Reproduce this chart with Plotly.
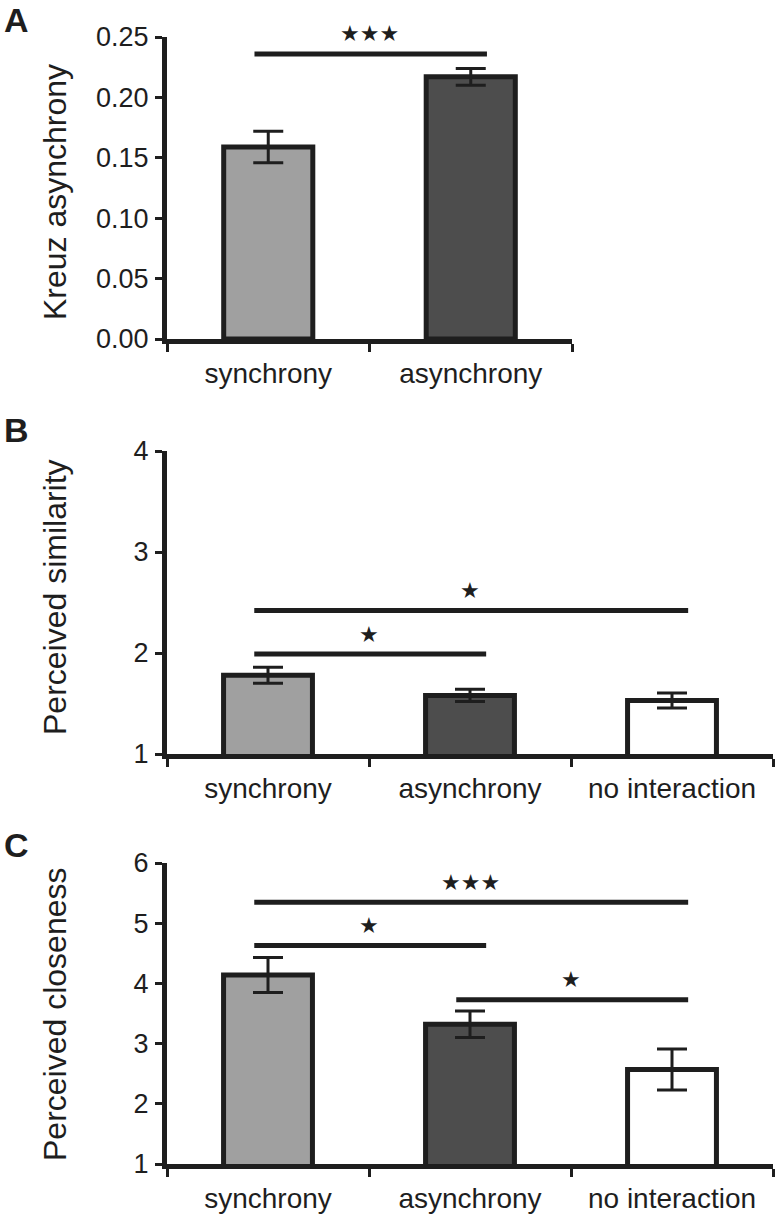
import plotly.graph_objects as go

# ---------------- data ----------------
cats_a = ["synchrony", "asynchrony"]
vals_a = [0.159, 0.217]
errs_a = [0.013, 0.007]

cats_bc = ["synchrony", "asynchrony", "no interaction"]
vals_b = [1.78, 1.58, 1.53]
errs_b = [0.08, 0.06, 0.075]

vals_c = [4.14, 3.32, 2.57]
errs_c = [0.29, 0.22, 0.34]

bar_colors = ["#a0a0a0", "#4d4d4d", "#ffffff"]

# significance: (from index, to index, line height, stars)
sig_a = [(0, 1, 0.236, "★★★")]
sig_b = [(0, 1, 1.99, "★"), (0, 2, 2.42, "★")]
sig_c = [(0, 1, 4.63, "★"), (0, 2, 5.35, "★★★"), (1, 2, 3.73, "★")]

panel_titles = ["Kreuz asynchrony", "Perceived similarity", "Perceived closeness"]
panel_letters = ["A", "B", "C"]

# ---------------- layout geometry (pixels) ----------------
W, H = 776, 1215
FONT = "Liberation Sans, Arial, Helvetica, sans-serif"
INK = "#1e1e1e"


def px_x(p):
    return p / W


def px_y(p):
    return 1 - p / H


fig = go.Figure()

panels = [
    dict(cats=cats_a, vals=vals_a, errs=errs_a, sig=sig_a, yr=[0, 0.25], dt=0.05, fmt=".2f",
         xd=[px_x(167), px_x(572)], yd=[px_y(339), px_y(37)], ax=""),
    dict(cats=cats_bc, vals=vals_b, errs=errs_b, sig=sig_b, yr=[1, 4], dt=1, fmt="d",
         xd=[px_x(167), px_x(773)], yd=[px_y(754), px_y(451)], ax="2"),
    dict(cats=cats_bc, vals=vals_c, errs=errs_c, sig=sig_c, yr=[1, 6], dt=1, fmt="d",
         xd=[px_x(167), px_x(773)], yd=[px_y(1164), px_y(863)], ax="3"),
]

shapes = []
annotations = []

for p in panels:
    n = len(p["cats"])
    fig.add_trace(go.Bar(
        x=p["cats"], y=p["vals"],
        width=0.44,
        marker=dict(color=bar_colors[:n], line=dict(color=INK, width=5)),
        error_y=dict(type="data", array=p["errs"], visible=True,
                     color=INK, thickness=3, width=15),
        xaxis="x" + p["ax"], yaxis="y" + p["ax"],
        showlegend=False,
    ))
    xa = dict(
        domain=p["xd"], anchor="y" + p["ax"], type="category",
        range=[-0.5, n - 0.5], automargin=False,
        showline=True, linewidth=5, linecolor=INK,
        ticks="outside", tickson="boundaries", ticklen=8, tickwidth=3, tickcolor=INK,
        showgrid=False, zeroline=False,
        tickfont=dict(family=FONT, size=28, color=INK),
        ticklabelstandoff=5,
    )
    ya = dict(
        domain=p["yd"], anchor="x" + p["ax"], automargin=False,
        range=p["yr"], dtick=p["dt"], tick0=p["yr"][0], tickformat=p["fmt"],
        showline=True, linewidth=5, linecolor=INK,
        ticks="outside", ticklen=7, tickwidth=3, tickcolor=INK,
        showgrid=False, zeroline=False,
        tickfont=dict(family=FONT, size=27, color=INK),
        ticklabelstandoff=1,
    )
    fig.layout["xaxis" + p["ax"]] = xa
    fig.layout["yaxis" + p["ax"]] = ya

    for (i, j, yv, stars) in p["sig"]:
        shapes.append(dict(
            type="line", xref="x" + p["ax"], yref="y" + p["ax"],
            x0=i - 0.068, x1=j + 0.08, y0=yv, y1=yv,
            line=dict(color=INK, width=5),
        ))
        annotations.append(dict(
            xref="x" + p["ax"], yref="y" + p["ax"],
            x=(i + j) / 2, y=yv, yshift=20, text=stars, showarrow=False,
            font=dict(family="DejaVu Sans", size=22, color=INK),
            xanchor="center", yanchor="middle",
        ))

# y-axis titles and panel letters
title_y = [192, 597, 1015]
letter_y = [20, 430, 845]
for t, ty, letter, ly in zip(panel_titles, title_y, panel_letters, letter_y):
    annotations.append(dict(
        xref="paper", yref="paper", x=px_x(55), y=px_y(ty), text=t, textangle=-90,
        showarrow=False, xanchor="center", yanchor="middle",
        font=dict(family=FONT, size=32, color=INK),
    ))
    annotations.append(dict(
        xref="paper", yref="paper", x=px_x(16), y=px_y(ly), text="<b>" + letter + "</b>",
        showarrow=False, xanchor="center", yanchor="middle",
        font=dict(family=FONT, size=34, color=INK),
    ))

fig.update_layout(
    width=W, height=H,
    margin=dict(l=0, r=0, t=0, b=0, autoexpand=False),
    paper_bgcolor="white", plot_bgcolor="white",
    shapes=shapes, annotations=annotations,
    bargap=0.5,
)

fig.write_html("out.html", config={"displayModeBar": False},
               post_script="document.body.style.margin='0';")
